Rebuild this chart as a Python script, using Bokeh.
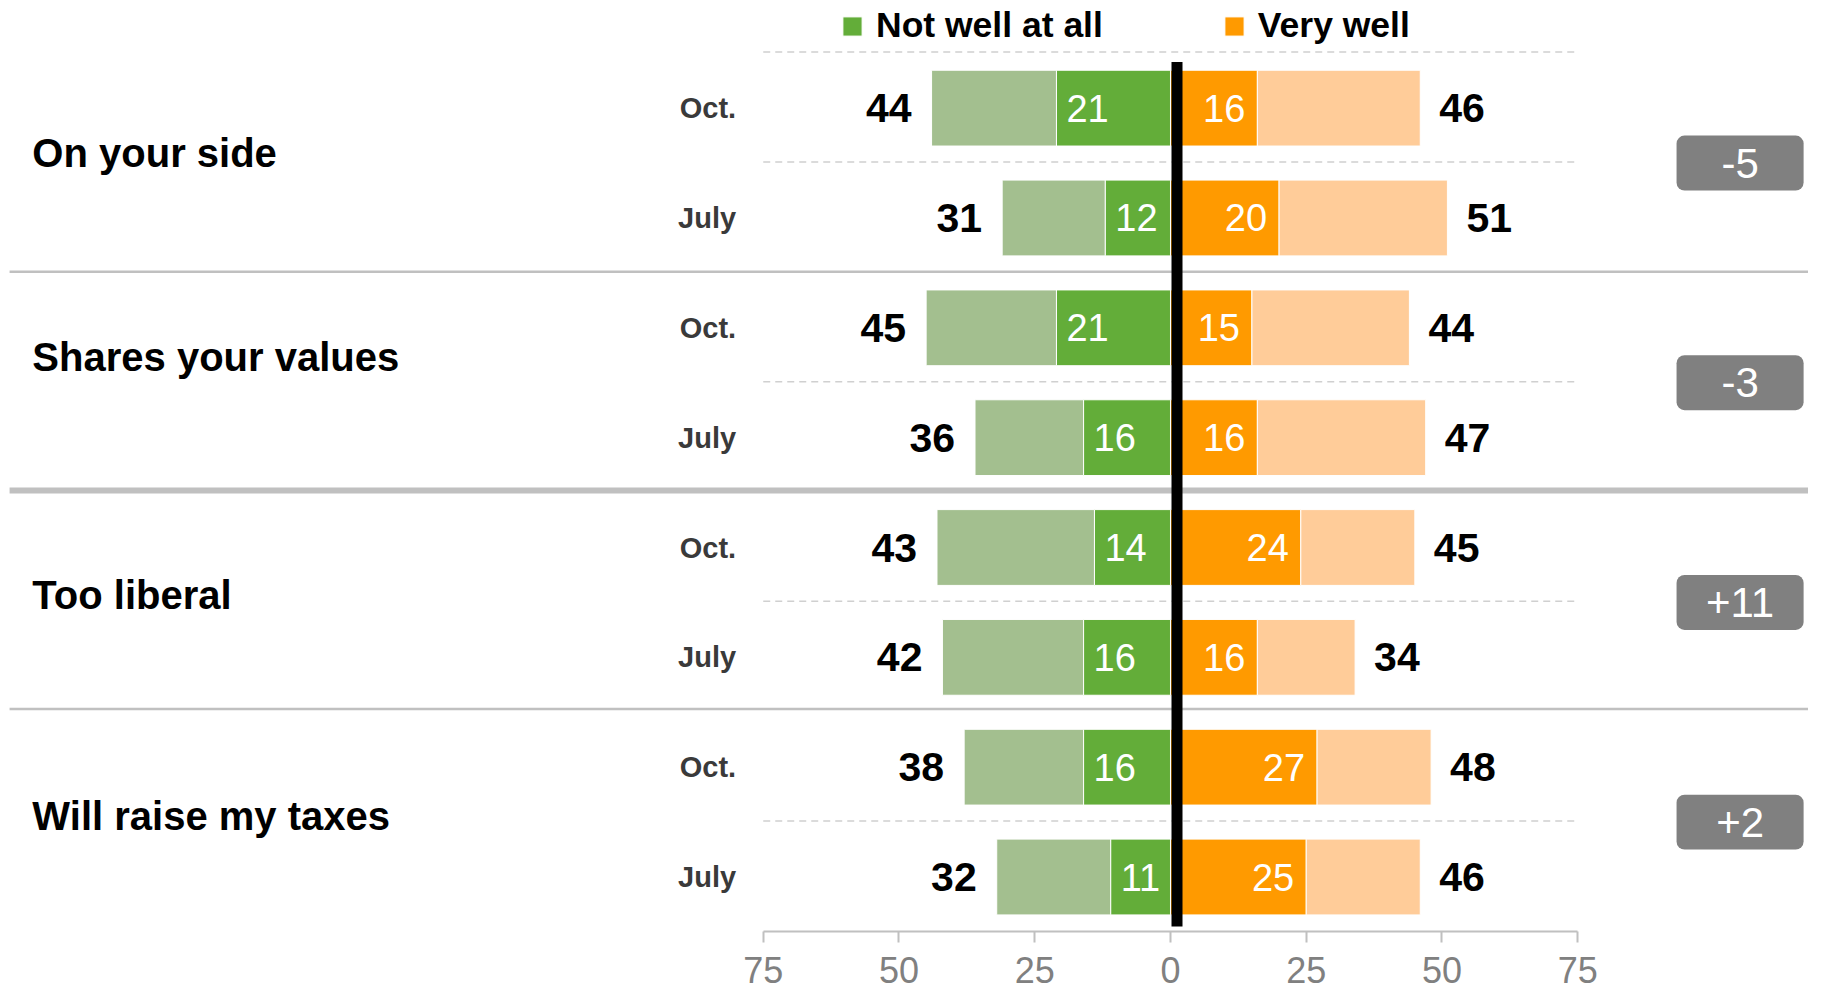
from bokeh.plotting import figure
from bokeh.models import Range1d, FixedTicker, Legend, LegendItem, ColumnDataSource
from bokeh.core.properties import value
from bokeh.embed import file_html
from bokeh.resources import INLINE

# ---------------- data ----------------
items = ["On your side", "Shares your values", "Too liberal", "Will raise my taxes"]
periods = ["Oct.", "July"]
not_well_total = [44, 31, 45, 36, 43, 42, 38, 32]      # "not too well" + "not well at all"
not_well_at_all = [21, 12, 21, 16, 14, 16, 16, 11]
very_well_total = [46, 51, 44, 47, 45, 34, 48, 46]     # "very well" + "somewhat well"
very_well = [16, 20, 15, 16, 24, 16, 27, 25]
axis_ticks = [-75, -50, -25, 0, 25, 50, 75]
axis_tick_labels = ["75", "50", "25", "0", "25", "50", "75"]

# ---------------- style ----------------
FONT = "Liberation Sans"
GREEN = "#63ad39"
GREEN_LIGHT = "#a3bf8f"
ORANGE = "#ff9a00"
ORANGE_LIGHT = "#ffcc99"
SEP = "#c0c0c0"

n = len(not_well_total)
rows = list(range(n))
group_centers = [2 * g + 0.5 for g in range(len(items))]
group_label_y = [0.41, 2.27, 4.43, 6.44]
change = [very_well_total[2 * g] - very_well_total[2 * g + 1] for g in range(len(items))]
change_labels = [f"{c:+d}" for c in change]

src = ColumnDataSource(dict(
    y=rows,
    period=[periods[i % 2] for i in rows],
    nw_total_left=[-v for v in not_well_total],
    nw_left=[-v for v in not_well_at_all],
    zero=[0] * n,
    vw=very_well,
    vw_total=very_well_total,
    nw_total_lbl=[str(v) for v in not_well_total],
    nw_lbl=[str(v) for v in not_well_at_all],
    vw_lbl=[str(v) for v in very_well],
    vw_total_lbl=[str(v) for v in very_well_total],
))

X0, X1 = -215.47, 117.5
p = figure(width=1808, height=989,
           x_range=Range1d(X0, X1), y_range=Range1d(7.496, -0.980),
           output_backend="svg", toolbar_location=None, y_axis_type=None,
           min_border_left=0, min_border_right=0, min_border_top=0, min_border_bottom=58)
p.grid.visible = False
p.outline_line_color = None
p.background_fill_color = "white"

# x axis
ax = p.xaxis[0]
ax.ticker = FixedTicker(ticks=axis_ticks)
ax.major_label_overrides = {t: l for t, l in zip(axis_ticks, axis_tick_labels)}
ax.bounds = (axis_ticks[0], axis_ticks[-1])
ax.axis_line_color = SEP
ax.axis_line_width = 2
ax.major_tick_line_color = SEP
ax.major_tick_line_width = 2
ax.major_tick_out = 11
ax.major_tick_in = 0
ax.minor_tick_out = 0
ax.minor_tick_in = 0
ax.major_label_text_font = FONT
ax.major_label_text_font_size = "36px"
ax.major_label_text_color = "#808080"
ax.major_label_standoff = 14

# dashed guide lines
dash_y = [-0.51] + [2 * g + 0.49 for g in range(len(items))]
p.segment(x0=[axis_ticks[0]] * len(dash_y), x1=[axis_ticks[-1]] * len(dash_y),
          y0=dash_y, y1=dash_y, line_color="#d0d0d0", line_width=1.5, line_dash="7 5")

# separators between groups
sep_y = [1.49, 3.48, 5.47]
sep_w = [2.5, 6, 2.5]
p.segment(x0=[-213.8] * 3, x1=[X1] * 3, y0=sep_y, y1=sep_y,
          line_color=SEP, line_width=sep_w)

H = 0.69
r_gl = p.hbar(y="y", left="nw_total_left", right="nw_left", height=H, source=src,
              fill_color=GREEN_LIGHT, line_color="white", line_width=1)
r_g = p.hbar(y="y", left="nw_left", right="zero", height=H, source=src,
             fill_color=GREEN, line_color="white", line_width=1)
r_o = p.hbar(y="y", left="zero", right="vw", height=H, source=src,
             fill_color=ORANGE, line_color="white", line_width=1)
r_ol = p.hbar(y="y", left="vw", right="vw_total", height=H, source=src,
              fill_color=ORANGE_LIGHT, line_color="white", line_width=1)

# centre line
p.segment(x0=[1.2], x1=[1.2], y0=[-0.42], y1=[7.45], line_color="black", line_width=11)

# labels inside bars
p.text(x="nw_left", y="y", text="nw_lbl", source=src, x_offset=10,
       text_align="left", text_baseline="middle", text_color="white",
       text_font=value(FONT), text_font_size="38px")
p.text(x="vw", y="y", text="vw_lbl", source=src, x_offset=-12,
       text_align="right", text_baseline="middle", text_color="white",
       text_font=value(FONT), text_font_size="38px")
# totals
p.text(x="nw_total_left", y="y", text="nw_total_lbl", source=src, x_offset=-20,
       text_align="right", text_baseline="middle", text_color="black",
       text_font=value(FONT), text_font_size="41px", text_font_style="bold")
p.text(x="vw_total", y="y", text="vw_total_lbl", source=src, x_offset=19,
       text_align="left", text_baseline="middle", text_color="black",
       text_font=value(FONT), text_font_size="41px", text_font_style="bold")
# period labels
p.text(x=-80, y="y", text="period", source=src,
       text_align="right", text_baseline="middle", text_color="#3a3a3a",
       text_font=value(FONT), text_font_size="29px", text_font_style="bold")
# group labels
p.text(x=[-209.6] * len(items), y=group_label_y, text=items,
       text_align="left", text_baseline="middle", text_color="black",
       text_font=value(FONT), text_font_size="40px", text_font_style="bold")

# change badges
p.quad(left=[93.2] * len(items), right=[116.6] * len(items),
       top=[c - 0.25 for c in group_centers], bottom=[c + 0.25 for c in group_centers],
       fill_color="#808080", line_color=None, border_radius=8)
p.text(x=[104.9] * len(items), y=group_centers, text=change_labels,
       text_align="center", text_baseline="middle", text_color="white",
       text_font=value(FONT), text_font_size="42px")

legend = Legend(items=[LegendItem(label="Not well at all", renderers=[r_g]),
                       LegendItem(label="Very well", renderers=[r_o])],
                orientation="horizontal", location=(840, 885),
                glyph_width=24, glyph_height=24, label_standoff=12, spacing=119,
                padding=0, margin=0, border_line_alpha=0, background_fill_alpha=0,
                label_text_font=FONT, label_text_font_size="35.5px",
                label_text_font_style="bold", label_text_color="black")
p.add_layout(legend)

open("out.html", "w").write(file_html(p, INLINE))
